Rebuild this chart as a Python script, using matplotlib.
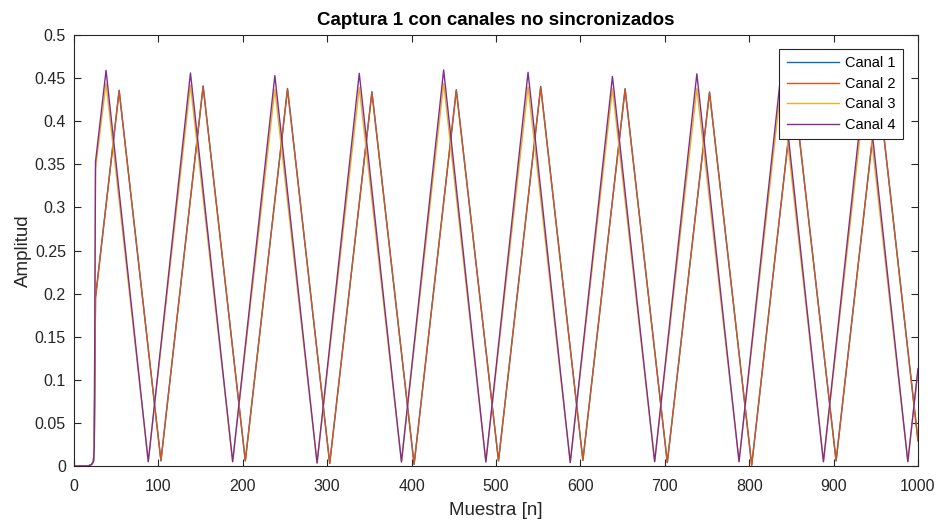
# captura 1: cuatro canales no sincronizados (onda triangular)

import matplotlib.pyplot as plt
import numpy as np

plt.rcParams['font.family'] = ['Liberation Sans', 'DejaVu Sans']

# vertices de cada canal (muestra, amplitud) leidos de la figura
# arranque comun: plano en cero y salto brusco cerca de n=25
start_x = [0, 17, 21, 23, 24]
start_y = [0.0, 0.0, 0.002, 0.005, 0.02]

# canales 3 y 4: picos en 38+100k, valles en 88+100k
fast_x = [25.5, 38, 88, 138, 188, 238, 288, 338, 388, 438, 488, 538, 588, 638, 688, 738, 788, 838, 888, 938, 988, 1000]
ch4_y = [0.353, 0.459, 0.005, 0.456, 0.005, 0.453, 0.0035, 0.4556, 0.0047, 0.4595, 0.0047, 0.4568, 0.004, 0.452, 0.005,
         0.455, 0.005, 0.459, 0.005, 0.457, 0.005, 0.113]
ch3_y = [0.345, 0.444, 0.005, 0.442, 0.005, 0.437, 0.0035, 0.439, 0.0047, 0.444, 0.0047, 0.440, 0.004, 0.4376, 0.005,
         0.438, 0.005, 0.443, 0.005, 0.440, 0.005, 0.110]

# canales 1 y 2: picos en 53+100k, valles en 103+100k
slow_x = [25.5, 53.5, 103, 153, 203, 253, 303, 353, 403, 453, 503, 553, 603, 653, 703, 753, 803, 853, 903, 953, 1000]
ch2_y = [0.195, 0.435, 0.006, 0.440, 0.006, 0.437, 0.003, 0.4333, 0.002, 0.4356, 0.006, 0.4394, 0.0066, 0.4368, 0.004,
         0.433, 0.001, 0.436, 0.006, 0.440, 0.029]
ch1_y = [0.196, 0.436, 0.006, 0.441, 0.006, 0.438, 0.003, 0.4343, 0.002, 0.4366, 0.006, 0.4404, 0.0066, 0.4378, 0.004,
         0.434, 0.001, 0.437, 0.006, 0.441, 0.030]

colors = ['#0072BD', '#D95319', '#EDB120', '#7E2F8E']
labels = ['Canal 1', 'Canal 2', 'Canal 3', 'Canal 4']

series = [
    (start_x + slow_x, start_y + ch1_y),
    (start_x + slow_x, start_y + ch2_y),
    (start_x + fast_x, start_y + ch3_y),
    (start_x + fast_x, start_y + ch4_y),
]

fig = plt.figure(figsize=(9.39, 5.23), dpi=100)
ax = fig.add_axes([0.0788, 0.109, 0.8988, 0.824])

for (xs, ys), c, lab in zip(series, colors, labels):
    ax.plot(xs, ys, color=c, linewidth=1.0, label=lab)

ax.set_xlim(0, 1000)
ax.set_ylim(0, 0.5)
ax.set_xticks(np.arange(0, 1001, 100))
ax.set_yticks(np.arange(0, 0.501, 0.05))
ax.set_yticklabels(['0', '0.05', '0.1', '0.15', '0.2', '0.25', '0.3', '0.35', '0.4', '0.45', '0.5'])
ax.tick_params(direction='in', top=True, right=True, length=5, width=0.8,
               colors='#262626', labelsize=11.5)
ax.tick_params(axis='x', pad=9.5)
ax.tick_params(axis='y', pad=5.8)
for sp in ax.spines.values():
    sp.set_color('#262626')
    sp.set_linewidth(0.8)

ax.set_xlabel('Muestra [n]', fontsize=13.5, color='#262626', labelpad=5.5)
ax.set_ylabel('Amplitud', fontsize=13.5, color='#262626', labelpad=2)
ax.set_title('Captura 1 con canales no sincronizados', fontsize=13.5, fontweight='bold', pad=7)

leg = ax.legend(loc='upper right', bbox_to_anchor=(0.982, 0.9675), fontsize=10.5,
                fancybox=False, framealpha=1, edgecolor='#262626', handlelength=3.6,
                labelspacing=0.45, borderpad=0.5, borderaxespad=0, handletextpad=0.4)
leg.get_frame().set_linewidth(0.8)

plt.savefig('out.png', dpi=100)
